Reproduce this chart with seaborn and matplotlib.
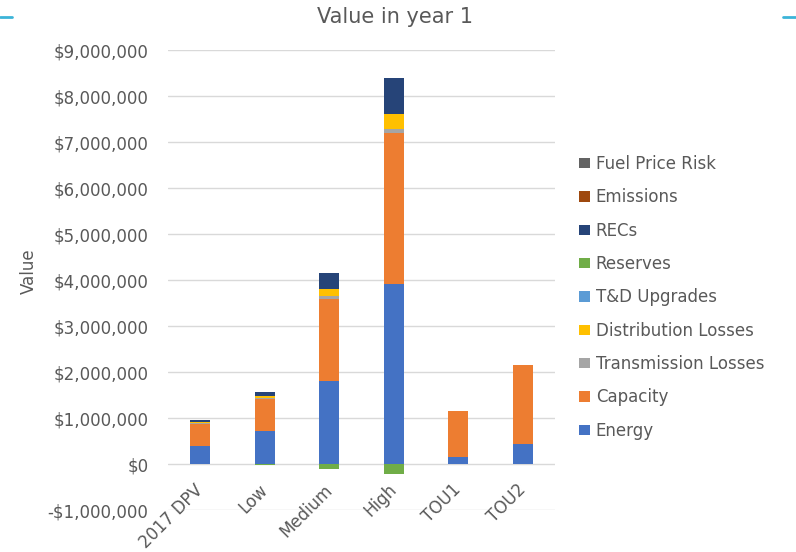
import numpy as np
import pandas as pd
import matplotlib.pyplot as plt
import seaborn as sns
from matplotlib.lines import Line2D
from matplotlib.ticker import FuncFormatter
from matplotlib.transforms import ScaledTranslation

# scenarios and value components (dollars, year 1)
scenarios = ['2017 DPV', 'Low', 'Medium', 'High', 'TOU1', 'TOU2']
energy = [400000, 720000, 1800000, 3910000, 150000, 430000]
capacity = [470000, 690000, 1800000, 3280000, 1010000, 1720000]
transmission_losses = [20000, 20000, 50000, 100000, 0, 0]
distribution_losses = [20000, 40000, 150000, 320000, 0, 0]
td_upgrades = [0, 0, 0, 0, 0, 0]
reserves = [0, -30000, -100000, -220000, 0, 0]
recs = [50000, 90000, 350000, 780000, 0, 0]
emissions = [0, 0, 0, 0, 0, 0]
fuel_price_risk = [0, 0, 0, 0, 0, 0]

series_names = ['Energy', 'Capacity', 'Transmission Losses', 'Distribution Losses',
                'T&D Upgrades', 'Reserves', 'RECs', 'Emissions', 'Fuel Price Risk']
series_vals = [energy, capacity, transmission_losses, distribution_losses,
               td_upgrades, reserves, recs, emissions, fuel_price_risk]
series_colors = ['#4472C4', '#ED7D31', '#A5A5A5', '#FFC000', '#5B9BD5',
                 '#70AD47', '#264478', '#9E480E', '#636363']

df = pd.DataFrame(dict(zip(series_names, series_vals)), index=scenarios)
pos_top = df.clip(lower=0).cumsum(axis=1)
neg_top = df.clip(upper=0).cumsum(axis=1)

sns.set_theme(style='white')
plt.rcParams['font.family'] = ['DejaVu Sans']
text_col = '#595959'

fig = plt.figure(figsize=(7.96, 5.52), dpi=100)
ax = fig.add_axes([0.211, 0.076, 0.486, 0.833])

# draw cumulative tops from the last layer down so lower layers cover upper ones
for name, col in zip(series_names[::-1], series_colors[::-1]):
    sns.barplot(x=scenarios, y=pos_top[name].values, color=col, saturation=1,
                width=0.31, linewidth=0, label=name, ax=ax)
    if (neg_top[name] < 0).any():
        sns.barplot(x=scenarios, y=neg_top[name].values, color=col, saturation=1,
                    width=0.31, linewidth=0, ax=ax)

ax.set_ylim(-1000000, 9000000)
ax.set_xlim(-0.5, 5.5)
ax.set_yticks(np.arange(-1000000, 9000001, 1000000))
ax.yaxis.set_major_formatter(FuncFormatter(
    lambda v, p: ('-$' if v < 0 else '$') + f'{abs(int(v)):,}'))
ax.grid(axis='y', color='#D9D9D9', linewidth=1)
ax.set_axisbelow(True)
sns.despine(ax=ax, left=True, bottom=True)
# category labels sit next to the zero line
ax.spines['bottom'].set_position(('data', 0))
ax.tick_params(axis='both', length=0, labelsize=12, colors=text_col)
ax.tick_params(axis='y', pad=14)
ax.tick_params(axis='x', pad=12)
for lbl in ax.get_xticklabels():
    lbl.set_rotation(45)
    lbl.set_ha('right')
    lbl.set_rotation_mode('anchor')
    lbl.set_transform(lbl.get_transform() + ScaledTranslation(-0.06, 0, fig.dpi_scale_trans))
ax.set_ylabel('Value', fontsize=12, color=text_col)
ax.yaxis.set_label_coords(-0.336, 0.52)
ax.set_xlabel('')

fig.text(395 / 796, 1 - 17 / 552, 'Value in year 1', ha='center', va='center',
         fontsize=15, color=text_col)

leg = ax.legend(loc='upper left', bbox_to_anchor=(579 / 796, 1 - 155 / 552),
                bbox_transform=fig.transFigure, frameon=False, fontsize=12,
                labelspacing=0.92, handlelength=0.65, handleheight=0.6,
                handletextpad=0.35, borderpad=0, borderaxespad=0)
for t in leg.get_texts():
    t.set_color(text_col)

# small cyan accents at the top corners
for x0, x1 in [(0, 12), (783, 796)]:
    fig.add_artist(Line2D([x0 / 796, x1 / 796], [1 - 17 / 552] * 2,
                          color='#3CB4D8', linewidth=2, transform=fig.transFigure))

fig.savefig('out.png', dpi=100)
